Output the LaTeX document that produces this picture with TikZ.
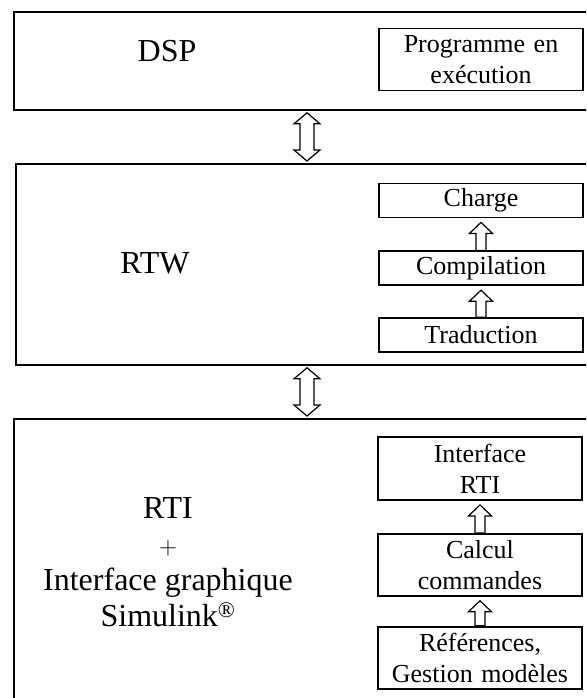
\documentclass[tikz,border=0pt]{standalone}
\usepackage{fontspec}
\setmainfont{Liberation Serif}
\usepackage{tikz}
\usetikzlibrary{positioning,calc}

\begin{document}
\begin{tikzpicture}[
  x=1pt, y=-1pt,
  outer/.style={draw, line width=1.8pt, anchor=north west, minimum width=620pt, inner sep=0pt},
  big/.style={font=\fontsize{32}{36}\selectfont, align=center},
  sub/.style={draw, line width=1.8pt, font=\fontsize{26}{31}\selectfont, align=center,
    text width=200pt, inner xsep=2pt, inner ysep=0pt, minimum height=34pt},
  twoline/.style={sub, minimum height=62pt},
  dblarrow/.style={draw, line width=1.2pt, fill=white,
    to path={let \p1=(\tikztostart), \p2=(\tikztotarget) in
      (\x1,\y1-2pt) -- (\x1+13pt,\y1-13pt) -- (\x1+7pt,\y1-13pt) -- (\x1+7pt,\y2+13pt)
      -- (\x1+13pt,\y2+13pt) -- (\x1,\y2+2pt) -- (\x1-13pt,\y2+13pt) -- (\x1-7pt,\y2+13pt)
      -- (\x1-7pt,\y1-13pt) -- (\x1-13pt,\y1-13pt) -- cycle}},
  uparrow/.style={draw, line width=1.2pt, fill=white,
    to path={let \p1=(\tikztostart), \p2=(\tikztotarget) in
      (\x1-5pt,\y1) -- (\x1-5pt,\y2-15pt) -- (\x1-11.5pt,\y2-15pt) -- (\x1,\y2-4pt)
      -- (\x1+11.5pt,\y2-15pt) -- (\x1+5pt,\y2-15pt) -- (\x1+5pt,\y1) -- cycle}},
  node distance=31pt,
]
\useasboundingbox (0,0) rectangle (586,698);
\clip (0,0) rectangle (586,698);

% Outer layers
\node[outer, minimum height=98pt] (dspbox) at (13,11) {};
\node[outer, minimum height=201pt] (rtwbox) at (15,163) {};
\node[outer, minimum height=300pt] (rtibox) at (13,418) {};
\coordinate (axis) at (307,0);

% DSP
\node[big] (dsp) at (167,51) {DSP};
\node[twoline] (prog) at (481,59.5) {Programme en\\exécution};

% RTW
\node[big] (rtw) at (155,263) {RTW};
\node[sub] (charge) at (481,200.5) {Charge};
\node[sub, below=32pt of charge] (compil) {Compilation};
\node[sub, below=of compil] (trad) {Traduction};

% RTI
\node[big] (rti) at (168,562) {RTI\\$+$\\Interface graphique\\Simulink\textsuperscript{\textregistered}};
\node[twoline, minimum height=63pt] (irti) at (480,468.5) {Interface\\RTI};
\node[twoline, below=32pt of irti] (calc) {Calcul\\commandes};
\node[twoline, below=29pt of calc] (refs) {Références,\\Gestion modèles};

% Arrows
\draw[dblarrow] (dspbox.south -| axis) to (rtwbox.north -| axis);
\draw[dblarrow] (rtwbox.south -| axis) to (rtibox.north -| axis);
\draw[uparrow] (compil.north) to (charge.south);
\draw[uparrow] (trad.north) to (compil.south);
\draw[uparrow] (calc.north) to (irti.south);
\draw[uparrow] (refs.north) to (calc.south);

\end{tikzpicture}
\end{document}
